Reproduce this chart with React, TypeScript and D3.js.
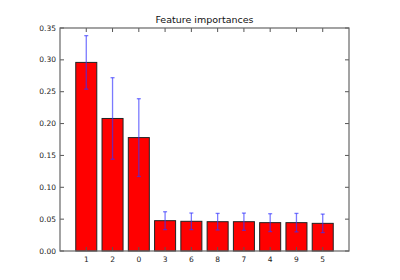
import React from "react";
import * as d3 from "d3";

const categories = ["1", "2", "0", "3", "6", "8", "7", "4", "9", "5"];
const importances = [0.296, 0.208, 0.178, 0.0476, 0.0466, 0.046, 0.046, 0.0445, 0.0445, 0.0434];
const stdDevs = [0.042, 0.064, 0.061, 0.014, 0.013, 0.013, 0.0135, 0.014, 0.0145, 0.0145];
const yTicks = [0, 0.05, 0.1, 0.15, 0.2, 0.25, 0.3, 0.35];
const title = "Feature importances";

export default function App() {
  const W = 400, H = 280;
  const left = 60, right = 349, top = 28, bottom = 251;
  const x = d3.scaleLinear().domain([-1, categories.length]).range([left, right]);
  const y = d3.scaleLinear().domain([0, 0.35]).range([bottom, top]);
  const bw = x(0.4) - x(-0.4);
  const fmt = d3.format(".2f");
  const font = "DejaVu Sans, sans-serif";
  const tl = 4;
  return (
    <svg width={W} height={H} style={{ position: "absolute", left: 0, top: 0, background: "#fff" }}>
      <rect width={W} height={H} fill="#fff" />
      {importances.map((v, i) => (
        <rect key={"b" + i} x={x(i) - bw / 2} y={y(v)} width={bw} height={y(0) - y(v)}
          fill="#ff0000" stroke="#222" strokeWidth={1} />
      ))}
      {importances.map((v, i) => {
        const cx = x(i);
        const y1 = y(v + stdDevs[i]);
        const y0 = y(v - stdDevs[i]);
        return (
          <g key={"e" + i} stroke="#3333ff" strokeOpacity={0.65} strokeWidth={1.3}>
            <line x1={cx} x2={cx} y1={y1} y2={y0} />
            <line x1={cx - 2} x2={cx + 2} y1={y1} y2={y1} />
            <line x1={cx - 2} x2={cx + 2} y1={y0} y2={y0} />
          </g>
        );
      })}
      {/* ticks */}
      {yTicks.map((t, i) => (
        <g key={"yt" + i}>
          <line x1={left} x2={left + tl} y1={y(t)} y2={y(t)} stroke="#555" />
          <line x1={right} x2={right - tl} y1={y(t)} y2={y(t)} stroke="#555" />
          <text x={left - 4} y={y(t)} dy="0.35em" textAnchor="end" fontSize={7.5} fontFamily={font} fill="#222">
            {fmt(t)}
          </text>
        </g>
      ))}
      {categories.map((c, i) => (
        <g key={"xt" + i}>
          <line x1={x(i)} x2={x(i)} y1={bottom} y2={bottom - tl} stroke="#555" />
          <line x1={x(i)} x2={x(i)} y1={top} y2={top + tl} stroke="#555" />
          <text x={x(i)} y={bottom + 11} textAnchor="middle" fontSize={7.5} fontFamily={font} fill="#222">
            {c}
          </text>
        </g>
      ))}
      <rect x={left} y={top} width={right - left} height={bottom - top} fill="none" stroke="#666" strokeWidth={1.2} />
      <text x={(left + right) / 2} y={top - 5} textAnchor="middle" fontSize={9.5} fontFamily={font} fill="#111">
        {title}
      </text>
    </svg>
  );
}
